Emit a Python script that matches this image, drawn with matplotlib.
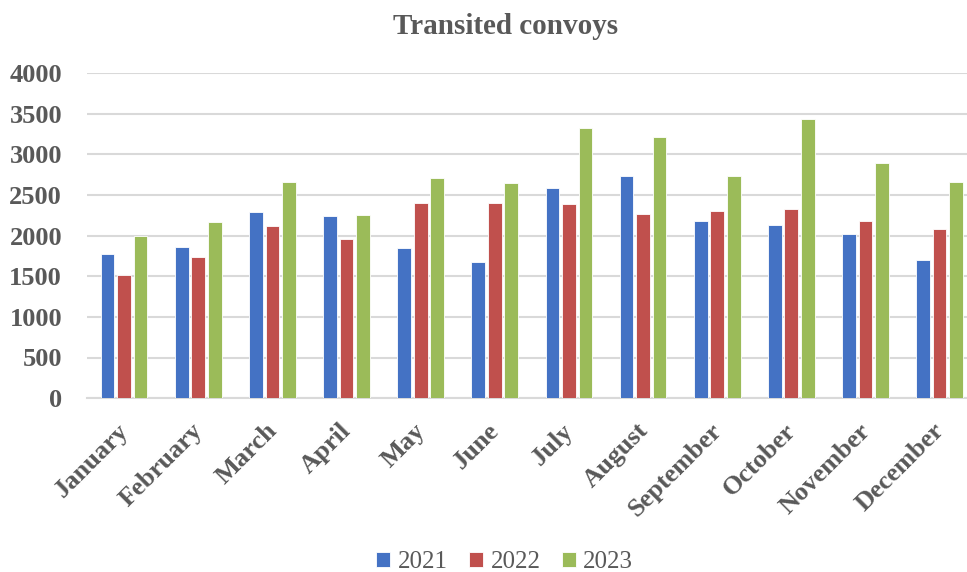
import numpy as np
import matplotlib
matplotlib.use("Agg")
from matplotlib import pyplot as plt
from matplotlib import transforms

# monthly convoy counts per year
months = ["January", "February", "March", "April", "May", "June",
          "July", "August", "September", "October", "November", "December"]
years = ["2021", "2022", "2023"]
convoys_2021 = [1775, 1860, 2295, 2245, 1845, 1680, 2585, 2730, 2185, 2135, 2025, 1705]
convoys_2022 = [1520, 1740, 2125, 1955, 2400, 2400, 2395, 2265, 2305, 2330, 2180, 2085]
convoys_2023 = [1995, 2165, 2660, 2250, 2705, 2645, 3330, 3215, 2740, 3435, 2895, 2655]
y_ticks = [0, 500, 1000, 1500, 2000, 2500, 3000, 3500, 4000]

colors = ["#4472c4", "#c0504d", "#9bbb59"]
text_color = "#595959"
plt.rcParams["font.family"] = ["Liberation Serif", "DejaVu Serif"]

fig = plt.figure(figsize=(9.67, 5.72), dpi=100)
# plot area runs slightly past the right edge of the canvas
ax = fig.add_axes([0.09, 0.304, 0.920, 0.568])

x = np.arange(len(months))
width = 0.185
offsets = [-0.222, 0, 0.222]
for vals, yr, col, off in zip([convoys_2021, convoys_2022, convoys_2023], years, colors, offsets):
    ax.bar(x + off, vals, width, color=col, label=yr, edgecolor="white", linewidth=0.6, zorder=3)

ax.set_xlim(-0.5, len(months) - 0.5)
ax.set_ylim(0, 4000)
ax.set_yticks(y_ticks)
ax.set_yticklabels([str(v) for v in y_ticks], fontsize=19, fontweight="bold", color=text_color)
ax.set_xticks(x)
ax.set_xticklabels(months, rotation=45, ha="right", rotation_mode="anchor",
                   fontsize=19, fontweight="bold", color=text_color)
ax.tick_params(axis="y", length=0, pad=18)
ax.tick_params(axis="x", length=0, pad=10)

# nudge the slanted month names down and to the left
shift = transforms.ScaledTranslation(-7 / 100, -7 / 100, fig.dpi_scale_trans)
for lbl in ax.get_xticklabels():
    lbl.set_transform(lbl.get_transform() + shift)

ax.grid(axis="y", color="#d9d9d9", linewidth=1.5, zorder=0)
for s in ["top", "right", "left"]:
    ax.spines[s].set_visible(False)
ax.spines["bottom"].set_color("#d9d9d9")
ax.spines["bottom"].set_linewidth(1.5)

fig.text(0.523, 0.953, "Transited convoys", ha="center", va="center",
         fontsize=21, fontweight="bold", color=text_color)

leg = fig.legend(loc="center", bbox_to_anchor=(0.522, 0.017), ncol=3, frameon=False,
                 fontsize=18, handlelength=0.56, handleheight=0.56, handletextpad=0.3,
                 columnspacing=0.85)
for t in leg.get_texts():
    t.set_color(text_color)

fig.savefig("out.png", dpi=100)
